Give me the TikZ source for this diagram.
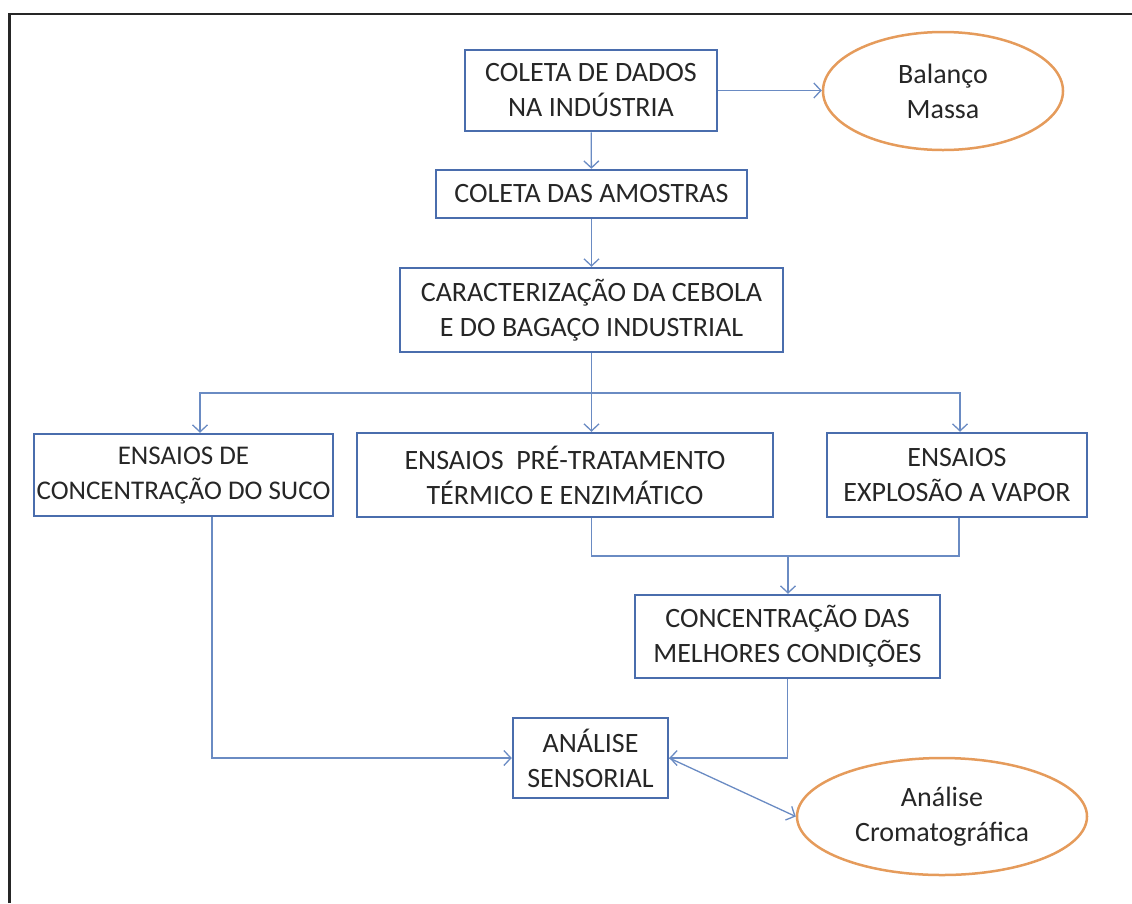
\documentclass[tikz,border=0pt]{standalone}
\usepackage{fontspec}
\setmainfont{Carlito}
\usetikzlibrary{shapes.geometric,arrows.meta}
\definecolor{boxblue}{HTML}{4A6DAD}
\definecolor{linkblue}{HTML}{6A8BC3}
\definecolor{ovalorange}{HTML}{E59B5B}
\begin{document}
\begin{tikzpicture}[x=1pt, y=-1pt,
    etapa/.style={draw=boxblue, line width=2.5pt, rectangle, align=center, inner sep=0pt, text=black!85, font=\fontsize{28}{35}\selectfont},
    resultado/.style={draw=ovalorange, line width=2.5pt, ellipse, align=center, inner sep=0pt, text=black!85, font=\fontsize{28}{35}\selectfont},
    linha/.style={draw=linkblue, line width=1.3pt},
    liga/.style={linha, -{Straight Barb[length=7pt, width=15pt]}}
]
    \useasboundingbox (0,0) rectangle (1132,903);

    % Frame
    \draw[line width=2.5pt, black!85] (9.5,903) -- (9.5,14) -- (1132,14);

    % Data collection
    \node[etapa, minimum width=252pt, minimum height=81pt] (coleta) at (591,90.5) {COLETA DE DADOS\\NA INDÚSTRIA};
    \node[resultado, minimum width=240pt, minimum height=118pt] (balanco) at (943,91) {Balanço\\Massa};
    \node[etapa, minimum width=311pt, minimum height=48pt] (amostras) at (591.5,194) {COLETA DAS AMOSTRAS};
    \node[etapa, minimum width=383pt, minimum height=84pt] (carac) at (591.5,310) {CARACTERIZAÇÃO DA CEBOLA\\E DO BAGAÇO INDUSTRIAL};

    % Trials
    \node[etapa, minimum width=299pt, minimum height=82pt, font=\fontsize{27}{35}\selectfont] (suco) at (183.5,475) {ENSAIOS DE\\CONCENTRAÇÃO DO SUCO};
    \node[etapa, minimum width=416pt, minimum height=84pt] (termico) at (565,475) {ENSAIOS\ \ PRÉ-TRATAMENTO\\TÉRMICO E ENZIMÁTICO};
    \node[etapa, minimum width=260pt, minimum height=84pt] (vapor) at (957,475) {ENSAIOS\\EXPLOSÃO A VAPOR};

    % Concentration and analysis
    \node[etapa, minimum width=305pt, minimum height=83pt] (melhores) at (787.5,636.5) {CONCENTRAÇÃO DAS\\MELHORES CONDIÇÕES};
    \node[etapa, minimum width=155pt, minimum height=80pt] (sensorial) at (590.5,758) {ANÁLISE\\SENSORIAL};
    \node[resultado, minimum width=290pt, minimum height=117pt] (cromato) at (942,816.5) {Análise\\Cromatográfica};

    % Branch and join points
    \coordinate (divide) at (591.5,393);
    \coordinate (junta) at (788,556);

    % Connectors
    \draw[liga] (coleta.east) -- (coleta.east -| balanco.west);
    \draw[liga] (coleta) -- (amostras);
    \draw[liga] (amostras) -- (carac);
    \draw[linha] (carac.south) -- (divide);
    \draw[liga] (divide) -| ([xshift=16.5pt]suco.north);
    \draw[liga] (divide) -- (divide |- termico.north);
    \draw[liga] (divide) -| ([xshift=3pt]vapor.north);
    \draw[linha] (divide |- termico.south) |- (junta);
    \draw[linha] ([xshift=2pt]vapor.south) |- (junta);
    \draw[liga] (junta) -- (junta |- melhores.north);
    \draw[liga] ([xshift=28.5pt]suco.south) |- (sensorial.west);
    \draw[liga] (melhores.south) |- (sensorial.east);
    \draw[liga] (sensorial.east) -- (cromato.west);
\end{tikzpicture}
\end{document}
